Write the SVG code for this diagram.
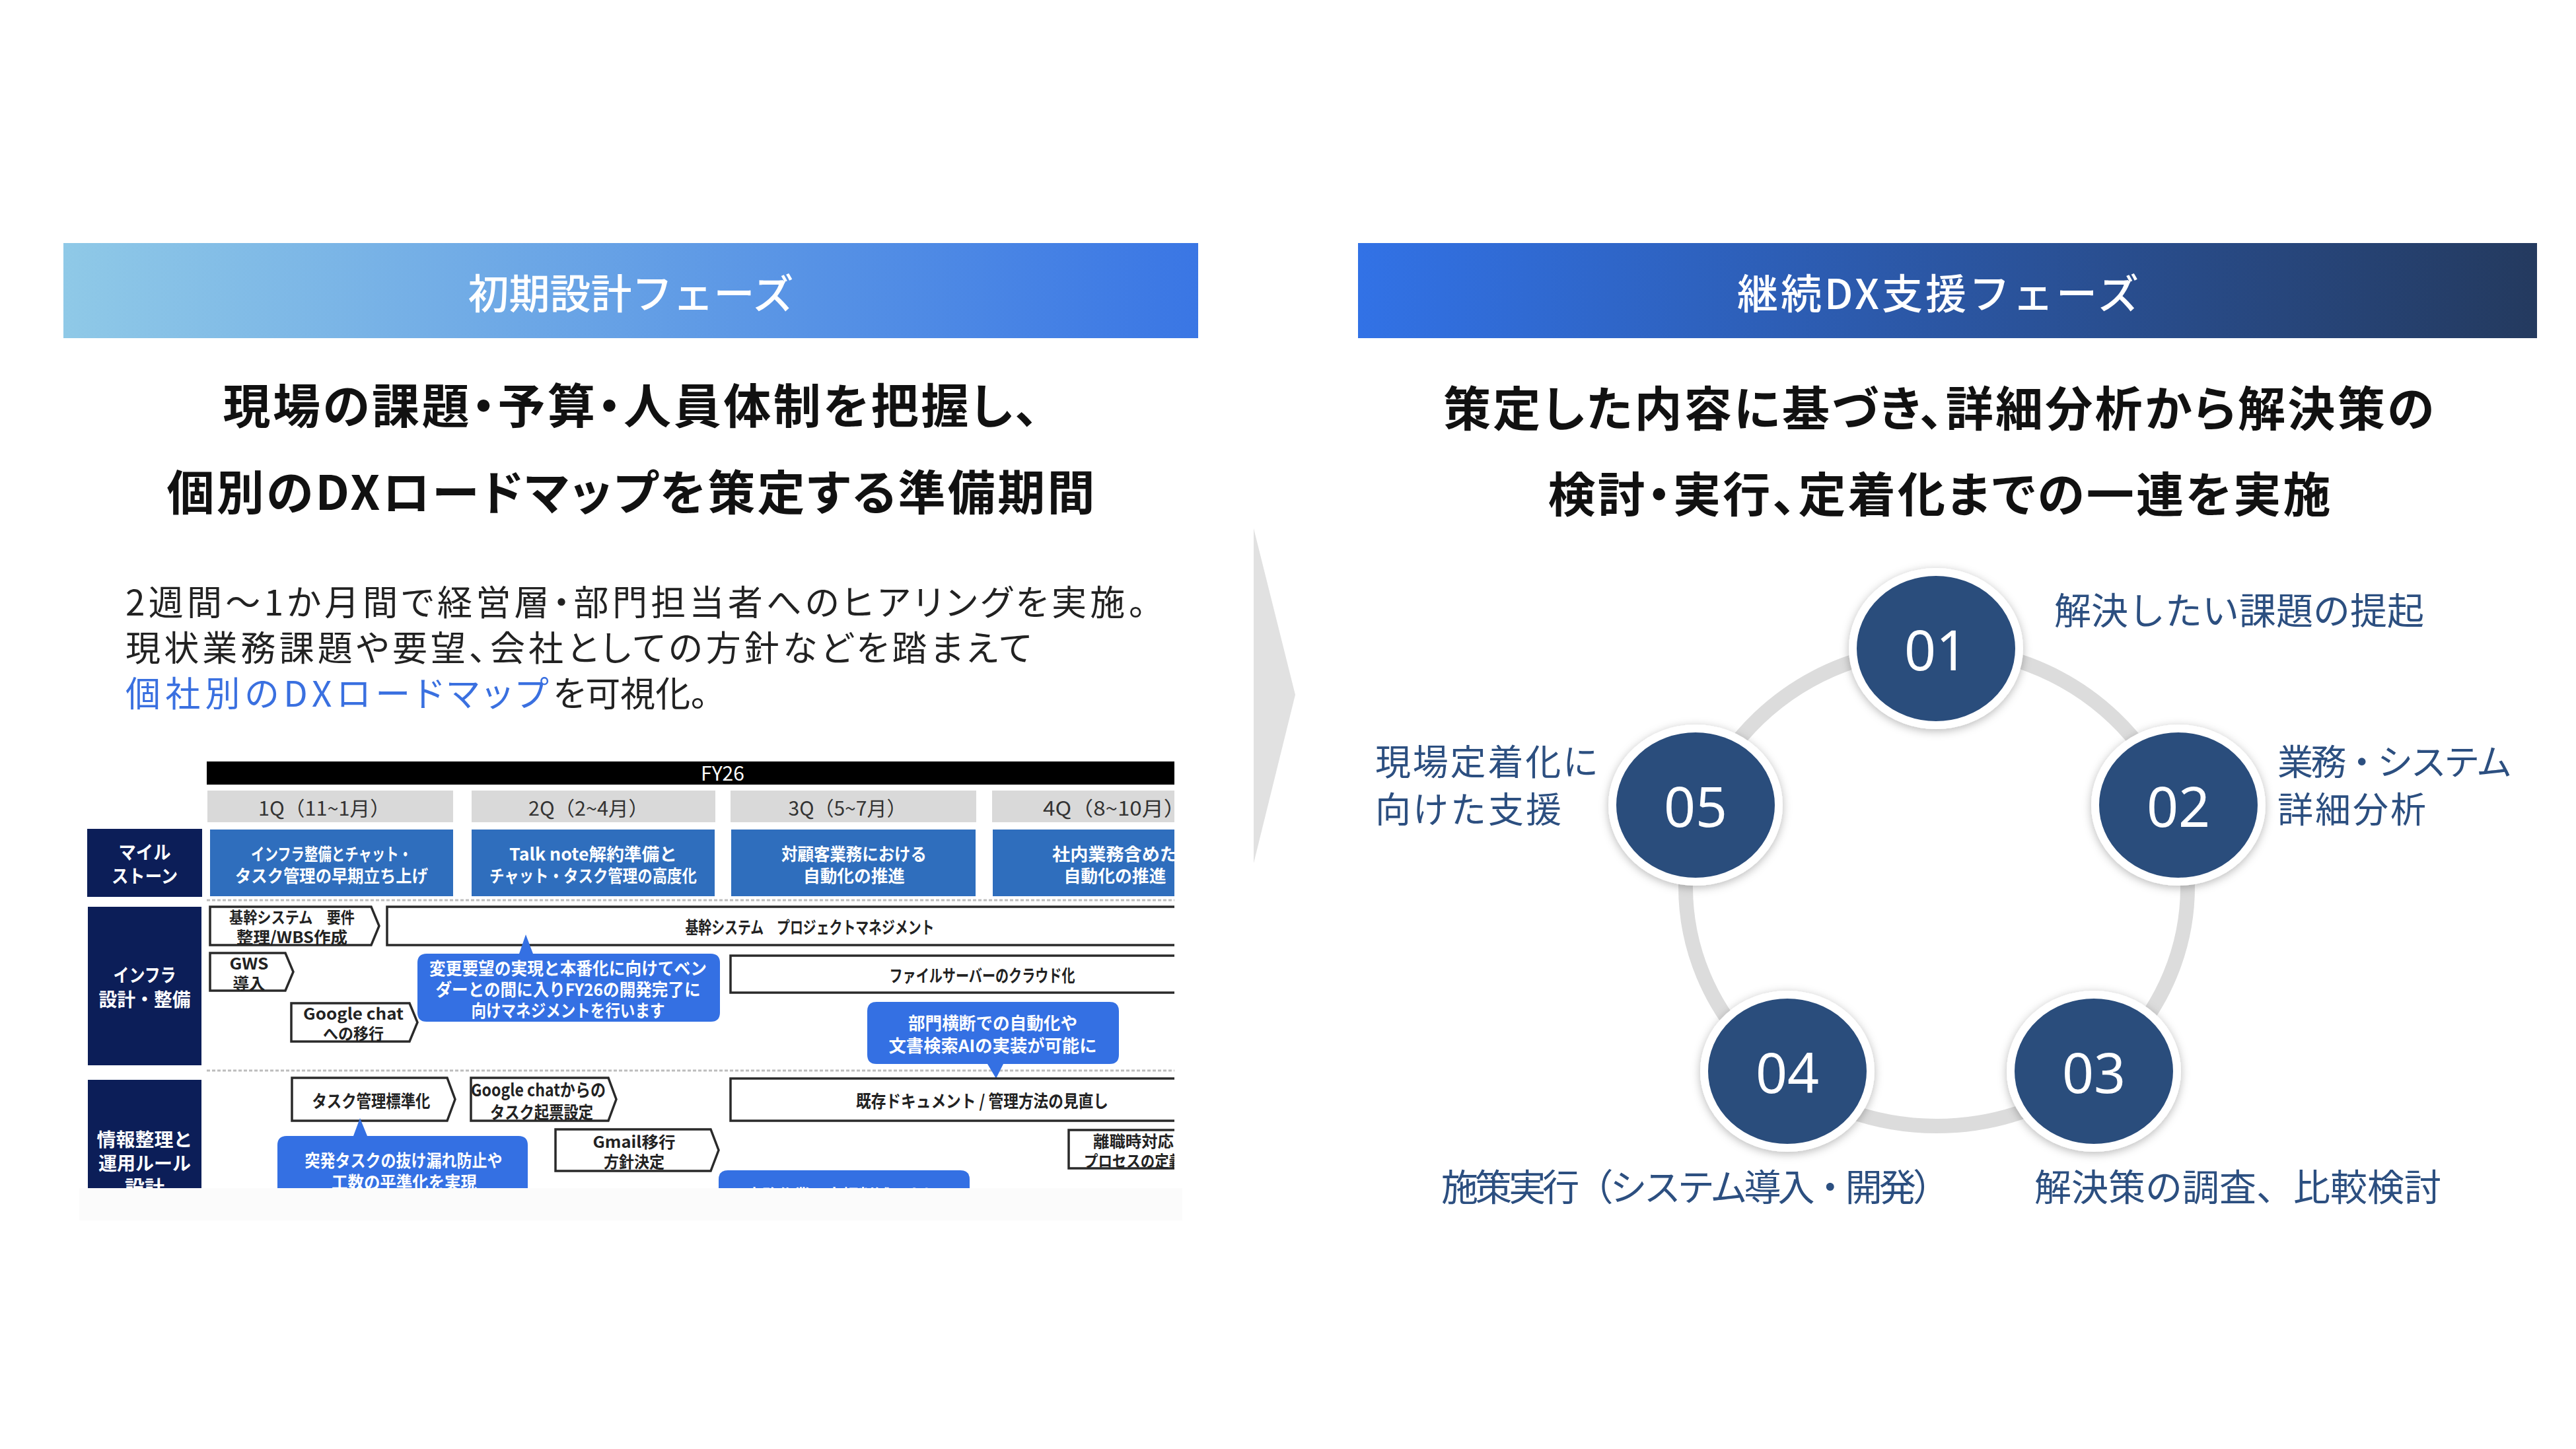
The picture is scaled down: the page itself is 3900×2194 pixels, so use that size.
<svg xmlns="http://www.w3.org/2000/svg" width="3900" height="2194" viewBox="0 0 3900 2194">
<defs>
<linearGradient id="gL" x1="0" y1="0" x2="1" y2="0"><stop offset="0" stop-color="#8fc9e7"/><stop offset="1" stop-color="#3a76e4"/></linearGradient>
<linearGradient id="gR" x1="0" y1="0" x2="1" y2="0"><stop offset="0" stop-color="#3272e6"/><stop offset="1" stop-color="#243a5f"/></linearGradient>
<filter id="sh" x="-30%" y="-30%" width="160%" height="160%"><feDropShadow dx="0" dy="3" stdDeviation="7" flood-color="#000" flood-opacity="0.28"/></filter>
<clipPath id="tbl"><rect x="120" y="1140" width="1658" height="659"/></clipPath>
</defs>
<style>
text{font-family:"Noto Sans CJK JP","Noto Sans",sans-serif;}
.hd{font-size:62px;fill:#fff;font-weight:500;text-anchor:middle;dominant-baseline:central}
.sub{font-size:72px;font-weight:700;fill:#111;text-anchor:middle;dominant-baseline:central;font-feature-settings:"palt"}
.body{font-size:53px;fill:#222;dominant-baseline:central;font-feature-settings:"palt"}
.lbl{font-size:56px;fill:#2c4f80;dominant-baseline:central}
.lbl2{font-size:54px;fill:#2c4f80;dominant-baseline:central}
.num{font-family:"Noto Sans","Open Sans",sans-serif;font-size:84px;fill:#fff;text-anchor:middle;dominant-baseline:central}
.step{fill:#2c4e7c;stroke:#fff;stroke-width:12}
.ring{fill:none;stroke:#dcdcdc;stroke-width:22}
.t{text-anchor:middle;dominant-baseline:central;font-weight:700}
.w{fill:#fff}
.k{fill:#222}
.q{font-size:30px;fill:#333;font-weight:400;text-anchor:middle;dominant-baseline:central}
.s28{font-size:26px}
.s24{font-size:24px}
.s32{font-size:28px}
.navy{fill:#0c1e58}
.ms{fill:#2f6ebd}
.qb{fill:#d9d9d9}
.box{fill:#fff;stroke:#2a2a2a;stroke-width:3.5}
.bub{fill:#3470e3}
.dash{stroke:#bdbdbd;stroke-width:3;stroke-dasharray:5 3}
</style>
<rect width="3900" height="2194" fill="#fff"/>

<!-- Left phase -->
<g id="phase-initial">
<rect x="96" y="368" width="1718" height="144" fill="url(#gL)"/>
<text class="hd" x="955" y="441">初期設計フェーズ</text>
<text class="sub" x="955" y="609" textLength="1235">現場の課題・予算・人員体制を把握し、</text>
<text class="sub" x="955" y="740" textLength="1405">個別のDXロードマップを策定する準備期間</text>
<text class="body"><tspan x="190" y="909" textLength="1545">2週間～1か月間で経営層・部門担当者へのヒアリングを実施。</tspan><tspan x="190" y="978" textLength="1372">現状業務課題や要望、会社としての方針などを踏まえて</tspan><tspan x="190" y="1047" fill="#3a70e0" textLength="640">個社別のDXロードマップ</tspan><tspan>を可視化。</tspan></text>
</g>

<!-- Roadmap screenshot recreation -->
<g id="roadmap">
<rect x="120" y="1799" width="1670" height="49" fill="#fbfbfb"/>
<g clip-path="url(#tbl)">
<g id="rm-header">
<rect x="313" y="1153" width="1500" height="35" fill="#000"/>
<text class="t w" x="1094" y="1169" style="font-size:30px;font-weight:400">FY26</text>
<rect class="qb" x="314" y="1197" width="372" height="48"/>
<rect class="qb" x="714" y="1197" width="369" height="48"/>
<rect class="qb" x="1106" y="1197" width="372" height="48"/>
<rect class="qb" x="1502" y="1197" width="320" height="48"/>
<text class="q" x="491" y="1222" textLength="200" lengthAdjust="spacingAndGlyphs">1Q（11~1月）</text>
<text class="q" x="891" y="1222" textLength="182" lengthAdjust="spacingAndGlyphs">2Q（2~4月）</text>
<text class="q" x="1283" y="1222" textLength="179" lengthAdjust="spacingAndGlyphs">3Q（5~7月）</text>
<text class="q" x="1687" y="1222" textLength="216" lengthAdjust="spacingAndGlyphs">4Q（8~10月）</text>
</g>
<g id="rm-labels">
<rect class="navy" x="132" y="1255" width="174" height="103"/>
<text class="t w s32"><tspan x="219" y="1289" textLength="79" lengthAdjust="spacingAndGlyphs">マイル</tspan><tspan x="219" y="1325" textLength="100" lengthAdjust="spacingAndGlyphs">ストーン</tspan></text>
<rect class="navy" x="133" y="1373" width="172" height="240"/>
<text class="t w s32"><tspan x="219" y="1475" textLength="95" lengthAdjust="spacingAndGlyphs">インフラ</tspan><tspan x="219" y="1512" textLength="139" lengthAdjust="spacingAndGlyphs">設計・整備</tspan></text>
<rect class="navy" x="133" y="1635" width="172" height="180"/>
<text class="t w s32"><tspan x="219" y="1724" textLength="145" lengthAdjust="spacingAndGlyphs">情報整理と</tspan><tspan x="219" y="1760" textLength="140" lengthAdjust="spacingAndGlyphs">運用ルール</tspan><tspan x="219" y="1796" textLength="60" lengthAdjust="spacingAndGlyphs">設計</tspan></text>
</g>
<g id="rm-milestones">
<rect class="ms" x="318" y="1256" width="368" height="101"/>
<rect class="ms" x="714" y="1256" width="368" height="101"/>
<rect class="ms" x="1107" y="1256" width="370" height="101"/>
<rect class="ms" x="1503" y="1256" width="320" height="101"/>
<text class="t w s28"><tspan x="502" y="1291" textLength="244" lengthAdjust="spacingAndGlyphs">インフラ整備とチャット・</tspan><tspan x="502" y="1324" textLength="292" lengthAdjust="spacingAndGlyphs">タスク管理の早期立ち上げ</tspan></text>
<text class="t w s28"><tspan x="898" y="1291" textLength="254" lengthAdjust="spacingAndGlyphs">Talk note解約準備と</tspan><tspan x="898" y="1324" textLength="314" lengthAdjust="spacingAndGlyphs">チャット・タスク管理の高度化</tspan></text>
<text class="t w s28"><tspan x="1293" y="1291" textLength="220" lengthAdjust="spacingAndGlyphs">対顧客業務における</tspan><tspan x="1293" y="1324" textLength="154" lengthAdjust="spacingAndGlyphs">自動化の推進</tspan></text>
<text class="t w s28"><tspan x="1688" y="1291" textLength="190" lengthAdjust="spacingAndGlyphs">社内業務含めた</tspan><tspan x="1688" y="1324" textLength="155" lengthAdjust="spacingAndGlyphs">自動化の推進</tspan></text>
</g>
<line class="dash" x1="313" y1="1363" x2="1790" y2="1363"/>
<line class="dash" x1="313" y1="1621" x2="1790" y2="1621"/>
<g id="rm-infra">
<path class="box" d="M318 1373H562L574 1402L562 1431H318Z"/>
<text class="t k s24"><tspan x="442" y="1387" textLength="190" lengthAdjust="spacingAndGlyphs">基幹システム　要件</tspan><tspan x="442" y="1417" textLength="168" lengthAdjust="spacingAndGlyphs">整理/WBS作成</tspan></text>
<rect class="box" x="586" y="1373" width="1240" height="58"/>
<text class="t k s28" x="1226" y="1402" textLength="377" lengthAdjust="spacingAndGlyphs">基幹システム　プロジェクトマネジメント</text>
<path class="box" d="M318 1443H432L444 1471.5L432 1500H318Z"/>
<text class="t k s24"><tspan x="377" y="1457" textLength="59" lengthAdjust="spacingAndGlyphs">GWS</tspan><tspan x="377" y="1487" textLength="49" lengthAdjust="spacingAndGlyphs">導入</tspan></text>
<path class="box" d="M441 1519H620L632 1548L620 1577H441Z"/>
<text class="t k s24"><tspan x="535" y="1533" textLength="152" lengthAdjust="spacingAndGlyphs">Google chat</tspan><tspan x="535" y="1563" textLength="92" lengthAdjust="spacingAndGlyphs">への移行</tspan></text>
<path class="bub" d="M646 1444H786L796 1415L807 1444H1076Q1090 1444 1090 1458V1533Q1090 1547 1076 1547H646Q632 1547 632 1533V1458Q632 1444 646 1444Z"/>
<text class="t w s28"><tspan x="860" y="1464" textLength="420" lengthAdjust="spacingAndGlyphs">変更要望の実現と本番化に向けてベン</tspan><tspan x="860" y="1496" textLength="401" lengthAdjust="spacingAndGlyphs">ダーとの間に入りFY26の開発完了に</tspan><tspan x="860" y="1528" textLength="293" lengthAdjust="spacingAndGlyphs">向けマネジメントを行います</tspan></text>
<rect class="box" x="1106" y="1447" width="720" height="56"/>
<text class="t k s28" x="1487" y="1475" textLength="281" lengthAdjust="spacingAndGlyphs">ファイルサーバーのクラウド化</text>
<path class="bub" d="M1327 1517H1680Q1694 1517 1694 1531V1597Q1694 1611 1680 1611H1519L1508 1633L1495 1611H1327Q1313 1611 1313 1597V1531Q1313 1517 1327 1517Z"/>
<text class="t w s28"><tspan x="1503" y="1547" textLength="256" lengthAdjust="spacingAndGlyphs">部門横断での自動化や</tspan><tspan x="1503" y="1581" textLength="315" lengthAdjust="spacingAndGlyphs">文書検索AIの実装が可能に</tspan></text>
</g>
<g id="rm-info">
<path class="box" d="M442 1632H677L689 1664.5L677 1697H442Z"/>
<text class="t k s28" x="562" y="1665" textLength="179" lengthAdjust="spacingAndGlyphs">タスク管理標準化</text>
<path class="box" d="M713 1632H921L933 1664.5L921 1697H713Z"/>
<text class="t k s28"><tspan x="815" y="1648" textLength="204" lengthAdjust="spacingAndGlyphs">Google chatからの</tspan><tspan x="820" y="1682" textLength="156" lengthAdjust="spacingAndGlyphs">タスク起票設定</tspan></text>
<rect class="box" x="1106" y="1633" width="720" height="64"/>
<text class="t k s28" x="1487" y="1665" textLength="382" lengthAdjust="spacingAndGlyphs">既存ドキュメント / 管理方法の見直し</text>
<path class="box" d="M841 1710H1076L1088 1741.5L1076 1773H841Z"/>
<text class="t k s24"><tspan x="960" y="1727" textLength="125" lengthAdjust="spacingAndGlyphs">Gmail移行</tspan><tspan x="960" y="1757" textLength="92" lengthAdjust="spacingAndGlyphs">方針決定</tspan></text>
<rect class="box" x="1618" y="1711" width="220" height="58"/>
<text class="t k s24"><tspan x="1716" y="1726" textLength="122" lengthAdjust="spacingAndGlyphs">離職時対応</tspan><tspan x="1716" y="1756" textLength="150" lengthAdjust="spacingAndGlyphs">プロセスの定義</tspan></text>
<path class="bub" d="M434 1720H535L545 1693L556 1720H785Q799 1720 799 1734V1850H420V1734Q420 1720 434 1720Z"/>
<text class="t w s28"><tspan x="611" y="1755" textLength="299" lengthAdjust="spacingAndGlyphs">突発タスクの抜け漏れ防止や</tspan><tspan x="612" y="1788" textLength="220" lengthAdjust="spacingAndGlyphs">工数の平準化を実現</tspan></text>
<path class="bub" d="M1102 1772H1454Q1468 1772 1468 1786V1850H1088V1786Q1088 1772 1102 1772Z"/>
<text class="t w s28" x="1275" y="1808" textLength="290" lengthAdjust="spacingAndGlyphs">事務作業の大幅削減により</text>
</g>
</g>
</g>

<!-- Divider chevron -->
<g id="divider">
<polygon points="1898,800 1961,1052 1898,1307" fill="#e1e1e1"/>
</g>

<!-- Right phase -->
<g id="phase-continuous">
<rect x="2056" y="368" width="1785" height="144" fill="url(#gR)"/>
<text class="hd" x="2934" y="441" textLength="608">継続DX支援フェーズ</text>
<text class="sub" x="2935" y="613" textLength="1500">策定した内容に基づき、詳細分析から解決策の</text>
<text class="sub" x="2936" y="743" textLength="1185">検討・実行、定着化までの一連を実施</text>
</g>

<g id="connectors">
<ellipse class="ring" cx="2932" cy="1343" rx="380" ry="362"/>
</g>

<g id="step-01">
<ellipse class="step" filter="url(#sh)" cx="2931" cy="982" rx="126" ry="116"/>
<text class="num" x="2931" y="982">01</text>
<text class="lbl" x="3110" y="920">解決したい課題の提起</text>
</g>
<g id="step-02">
<ellipse class="step" filter="url(#sh)" cx="3298" cy="1219" rx="126" ry="116"/>
<text class="num" x="3298" y="1219">02</text>
<text class="lbl2"><tspan x="3448" y="1150" textLength="355">業務・システム</tspan><tspan x="3448" y="1222" textLength="225">詳細分析</tspan></text>
</g>
<g id="step-03">
<ellipse class="step" filter="url(#sh)" cx="3170" cy="1622" rx="126" ry="116"/>
<text class="num" x="3170" y="1622">03</text>
<text class="lbl" x="3080" y="1793">解決策の調査、比較検討</text>
</g>
<g id="step-04">
<ellipse class="step" filter="url(#sh)" cx="2706" cy="1622" rx="126" ry="116"/>
<text class="num" x="2706" y="1622">04</text>
<text class="lbl" x="2182" y="1793" textLength="770">施策実行（システム導入・開発）</text>
</g>
<g id="step-05">
<ellipse class="step" filter="url(#sh)" cx="2567" cy="1219" rx="126" ry="116"/>
<text class="num" x="2567" y="1219">05</text>
<text class="lbl2"><tspan x="2082" y="1150" textLength="338">現場定着化に</tspan><tspan x="2082" y="1222" textLength="282">向けた支援</tspan></text>
</g>
</svg>
